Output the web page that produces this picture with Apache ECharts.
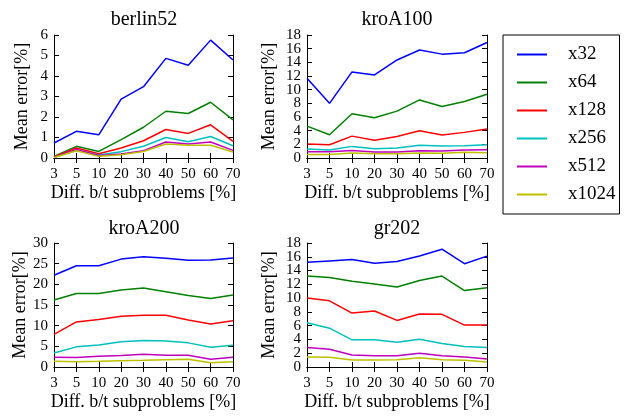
<!DOCTYPE html>
<html>
<head>
    <meta charset="utf-8">
    <title>Mean error</title>
    <script src="https://cdn.jsdelivr.net/npm/echarts@6/dist/echarts.min.js"></script>
    <style>
        body { margin: 0; background: #fff; }
    </style>
</head>
<body>
<div id="chart" style="width:625px;height:416px;"></div>
<script>
    // x categories (diff. b/t subproblems, %)
    var categories = ['3', '5', '10', '20', '30', '40', '50', '60', '70'];
    var seriesNames = ['x32', 'x64', 'x128', 'x256', 'x512', 'x1024'];
    var colors = ['#0000ff', '#008000', '#ff0000', '#00bfbf', '#bf00bf', '#bfbf00'];

    // one row per series name, same order as seriesNames
    var berlin52 = [
        [0.73, 1.3, 1.13, 2.87, 3.48, 4.86, 4.52, 5.75, 4.78],
        [0.08, 0.57, 0.32, 0.9, 1.5, 2.28, 2.17, 2.72, 1.86],
        [0.05, 0.49, 0.21, 0.49, 0.84, 1.39, 1.2, 1.62, 0.81],
        [0.03, 0.37, 0.15, 0.31, 0.57, 1.0, 0.79, 1.05, 0.6],
        [0.03, 0.42, 0.12, 0.2, 0.36, 0.78, 0.68, 0.78, 0.37],
        [0.02, 0.35, 0.08, 0.16, 0.32, 0.68, 0.62, 0.62, 0.29]
    ];
    var kroA100 = [
        [11.67, 8.0, 12.6, 12.16, 14.35, 15.8, 15.2, 15.4, 16.9],
        [4.67, 3.4, 6.47, 5.9, 6.86, 8.5, 7.54, 8.27, 9.34],
        [2.04, 1.95, 3.2, 2.6, 3.16, 4.0, 3.36, 3.75, 4.23],
        [1.3, 1.17, 1.7, 1.36, 1.46, 1.85, 1.75, 1.8, 1.95],
        [0.92, 0.92, 1.1, 0.88, 0.88, 1.07, 1.02, 1.17, 1.2],
        [0.5, 0.5, 0.73, 0.63, 0.63, 0.73, 0.68, 0.83, 0.78]
    ];
    var kroA200 = [
        [22.2, 24.5, 24.5, 26.1, 26.7, 26.3, 25.8, 25.9, 26.4],
        [16.2, 17.8, 17.8, 18.65, 19.1, 18.2, 17.3, 16.6, 17.4],
        [7.9, 10.9, 11.5, 12.3, 12.5, 12.5, 11.35, 10.4, 11.2],
        [3.4, 4.87, 5.35, 6.1, 6.4, 6.3, 5.84, 4.78, 5.27],
        [2.35, 2.27, 2.6, 2.76, 3.08, 2.84, 2.84, 1.87, 2.35],
        [1.38, 1.3, 1.38, 1.54, 1.62, 1.78, 1.87, 1.05, 1.3]
    ];
    var gr202 = [
        [15.2, 15.4, 15.6, 15.07, 15.3, 16.1, 17.1, 15.0, 16.1],
        [13.2, 13.0, 12.45, 12.06, 11.6, 12.55, 13.2, 11.1, 11.5],
        [10.0, 9.6, 7.83, 8.12, 6.76, 7.68, 7.64, 6.08, 6.08],
        [6.42, 5.64, 3.94, 3.94, 3.6, 4.04, 3.4, 2.97, 2.82],
        [2.82, 2.58, 1.75, 1.65, 1.65, 2.0, 1.65, 1.46, 1.17],
        [1.46, 1.41, 1.02, 1.02, 1.07, 1.36, 1.07, 0.97, 0.73]
    ];

    // y ranges per panel: [max, interval]
    var yRanges = [[6, 1], [18, 2], [30, 5], [18, 2]];
    var titles = ['berlin52', 'kroA100', 'kroA200', 'gr202'];
    var panels = [berlin52, kroA100, kroA200, gr202];

    var font = 'Liberation Serif';
    var grids = [
        {left: 54, top: 35, width: 179, height: 123},
        {left: 307, top: 35, width: 180, height: 123},
        {left: 54, top: 243, width: 179, height: 124},
        {left: 307, top: 243, width: 180, height: 124}
    ];
    var titlePos = [[144, 10], [397, 10], [144, 219], [397, 219]];
    var yNameGap = [23, 29, 23, 29];

    var tickRich = {t: {fontFamily: font, fontSize: 15, color: '#000', height: 11, lineHeight: 11}};

    // y tick labels are split over two axes (odd / even ticks) so the
    // tightly packed ones are not dropped by the label overlap check
    function yFormatter(step, parity) {
        return function (value) {
            var k = Math.round(value / step);
            return (k % 2 === parity) ? '{t|' + value + '}' : '';
        };
    }

    var xAxes = [], yAxes = [], series = [], titleList = [];
    var tickStyle = {show: true, inside: true, length: 5, lineStyle: {color: '#000', width: 1}};
    var lineStyleAxis = {show: true, lineStyle: {color: '#000', width: 1}};

    for (var i = 0; i < 4; i++) {
        titleList.push({
            text: titles[i], left: titlePos[i][0], top: titlePos[i][1], textAlign: 'center', padding: 0,
            textStyle: {fontFamily: font, fontSize: 20, fontWeight: 'normal', color: '#000'}
        });
        // bottom x axis with labels
        xAxes.push({
            type: 'category', gridIndex: i, data: categories, boundaryGap: false, position: 'bottom',
            axisLine: lineStyleAxis, axisTick: tickStyle,
            axisLabel: {formatter: '{t|{value}}', rich: tickRich, margin: 11, interval: 0,
                showMinLabel: true, showMaxLabel: true},
            name: 'Diff. b/t subproblems [%]', nameLocation: 'middle', nameGap: 26,
            nameTextStyle: {fontFamily: font, fontSize: 18, color: '#000'},
            splitLine: {show: false}
        });
        // top x axis: ticks only
        xAxes.push({
            type: 'category', gridIndex: i, data: categories, boundaryGap: false, position: 'top',
            axisLine: lineStyleAxis, axisTick: tickStyle, axisLabel: {show: false}, splitLine: {show: false}
        });
        var ymax = yRanges[i][0], step = yRanges[i][1];
        // left y axis: line, ticks, odd labels, name
        yAxes.push({
            type: 'value', gridIndex: i, min: 0, max: ymax, interval: step, position: 'left',
            axisLine: lineStyleAxis, axisTick: tickStyle,
            axisLabel: {formatter: yFormatter(step, 1), rich: tickRich, margin: 6,
                showMinLabel: true, showMaxLabel: true},
            name: 'Mean error[%]', nameLocation: 'middle', nameGap: yNameGap[i],
            nameTextStyle: {fontFamily: font, fontSize: 18, color: '#000'},
            splitLine: {show: false}
        });
        // right y axis: ticks only
        yAxes.push({
            type: 'value', gridIndex: i, min: 0, max: ymax, interval: step, position: 'right',
            axisLine: lineStyleAxis, axisTick: tickStyle, axisLabel: {show: false}, splitLine: {show: false}
        });
        // second left y axis: even labels only
        yAxes.push({
            type: 'value', gridIndex: i, min: 0, max: ymax, interval: step, position: 'left', offset: 0,
            axisLine: {show: false}, axisTick: {show: false},
            axisLabel: {formatter: yFormatter(step, 0), rich: tickRich, margin: 6,
                showMinLabel: true, showMaxLabel: true},
            splitLine: {show: false}
        });
        for (var s = 0; s < seriesNames.length; s++) {
            series.push({
                name: seriesNames[s], type: 'line', xAxisIndex: 2 * i, yAxisIndex: 3 * i,
                data: panels[i][s], symbol: 'none', animation: false,
                lineStyle: {color: colors[s], width: 1.5}, itemStyle: {color: colors[s]}
            });
        }
    }

    var myChart = echarts.init(document.getElementById('chart'));
    myChart.setOption({
        backgroundColor: '#fff',
        animation: false,
        title: titleList,
        grid: grids,
        xAxis: xAxes,
        yAxis: yAxes,
        legend: {
            data: seriesNames, orient: 'vertical', left: 503, top: 35,
            padding: [10, 4, 10, 14], itemGap: 9, itemWidth: 30, itemHeight: 2, icon: 'rect',
            borderColor: '#000', borderWidth: 1,
            textStyle: {fontFamily: font, fontSize: 19, color: '#000', padding: [0, 0, 0, 16]}
        },
        series: series
    });
</script>
</body>
</html>
